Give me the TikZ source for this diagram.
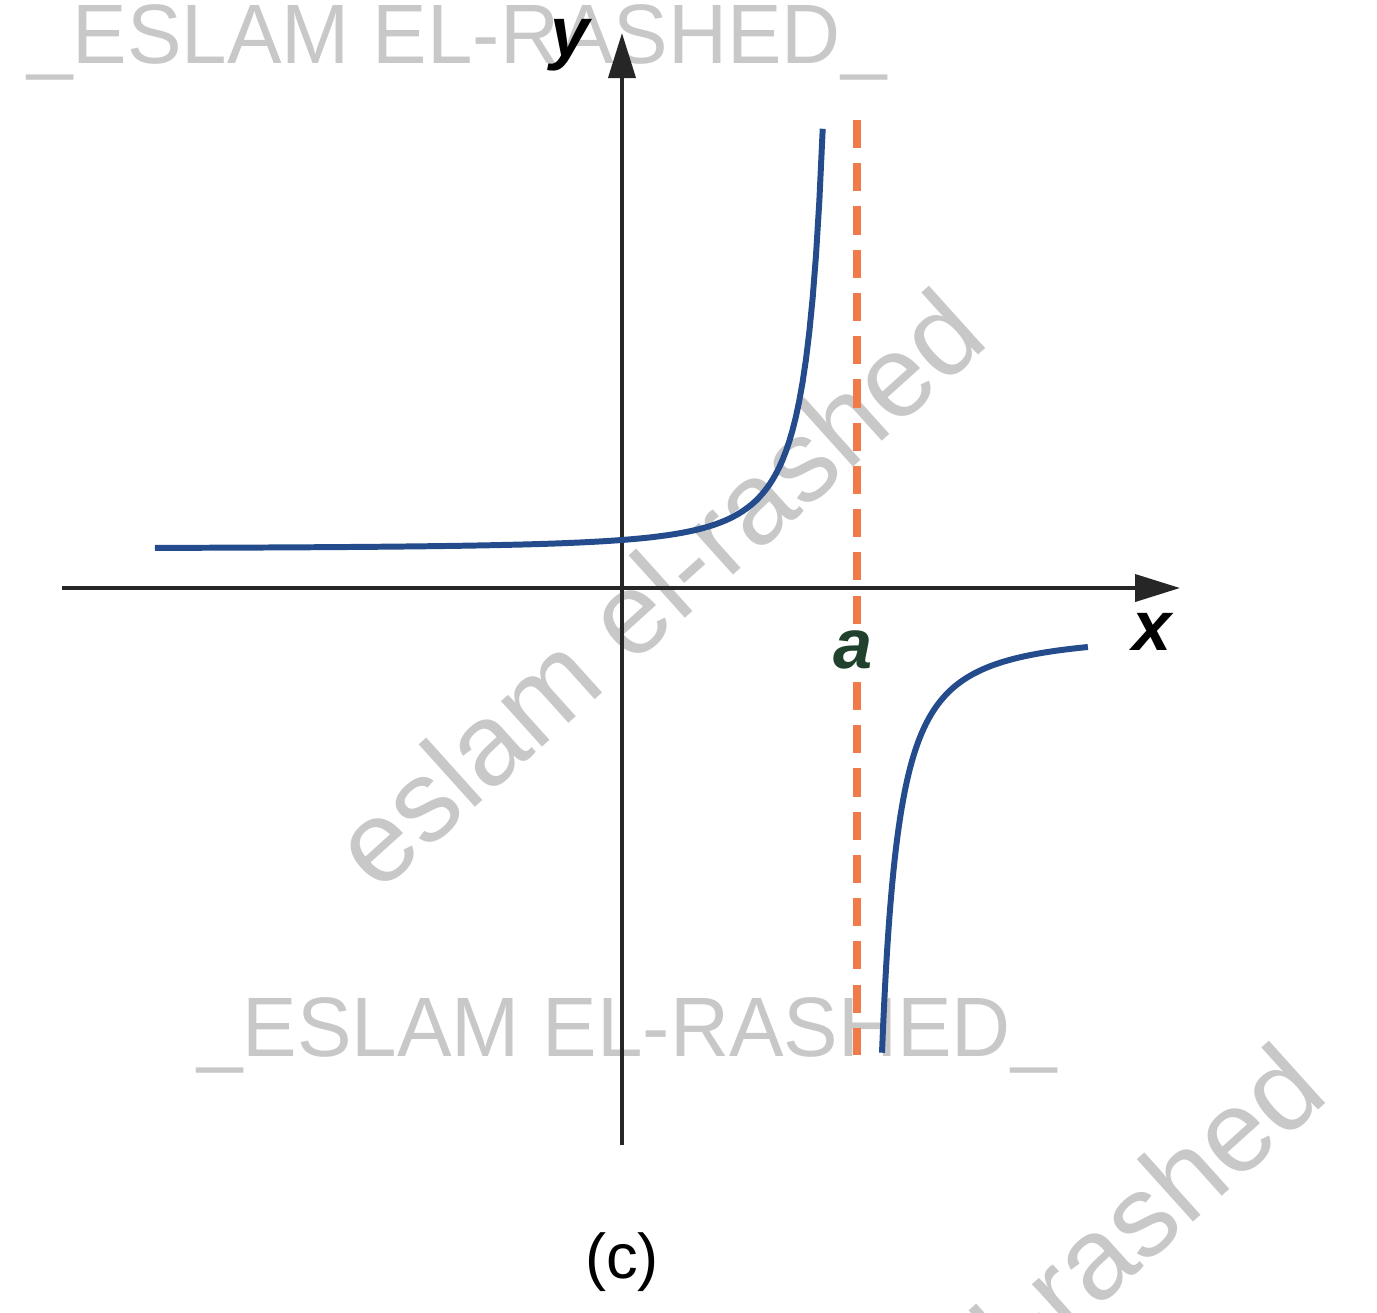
\documentclass[tikz,border=0pt]{standalone}
\usepackage{fontspec}
\setmainfont{Liberation Sans}
\usetikzlibrary{arrows.meta,positioning}
\definecolor{curveblue}{RGB}{36,76,140}
\definecolor{asymorange}{RGB}{240,122,74}
\definecolor{labelgreen}{RGB}{32,66,44}
\definecolor{wmgray}{RGB}{200,200,200}

\begin{document}
\begin{tikzpicture}[
  axis/.style={-{Triangle[length=4.5mm,width=2.7mm]}, line width=1.1pt, black!85},
  branch/.style={curveblue, line width=1.7pt},
  asym/.style={asymorange, line width=2pt, dash pattern=on 8pt off 4.3pt},
  lbl/.style={font=\fontsize{20}{24}\selectfont\bfseries\itshape},
  wmark/.style={wmgray, xscale=0.97, font=\fontsize{24}{28}\selectfont},
  wdiag/.style={wmgray, rotate=42, font=\fontsize{33}{38}\selectfont}
]
\useasboundingbox (-6.22,-7.24) rectangle (7.55,5.88);
\begin{scope}
\clip (-6.22,-7.24) rectangle (7.55,5.88);
\node[wmark] (wmtop) at (-1.65,5.46) {\_ESLAM EL-RASHED\_};
\node[wmark] (wmbot) at (0.05,-4.47) {\_ESLAM EL-RASHED\_};
\node[wdiag] (wmmid) at (0.35,0.0) {eslam el-rashed};
\node[wdiag] (wmcorner) at (3.75,-7.55) {eslam el-rashed};
\end{scope}

\coordinate (xl) at (-5.60,0);
\coordinate (xr) at (5.58,0);
\coordinate (yb) at (0,-5.57);
\coordinate (yt) at (0,5.55);
\coordinate (atop) at (2.35,4.68);
\coordinate (abot) at (2.35,-4.67);

\draw[axis] (xl) -- (xr);
\draw[axis] (yb) -- (yt);
\draw[asym] (atop) -- (abot);

\draw[branch] plot[domain=-4.67:2.01, samples=200] (\x, {0.391+0.4935/((2.35-\x)^2)});
\draw[branch] plot[domain=2.60:4.66, samples=200] (\x, {-0.44-0.526/((\x-2.35)^1.5)});

\node[lbl] (ylab) at (-0.52,5.43) {y};
\node[lbl] (xlab) at (5.30,-0.44) {x};
\node[lbl, labelgreen, fill=white, inner sep=1pt] (alab) at (2.31,-0.62) {a};
\node[font=\fontsize{18}{22}\selectfont] (cap) at (0,-6.74) {(c)};
\end{tikzpicture}
\end{document}
